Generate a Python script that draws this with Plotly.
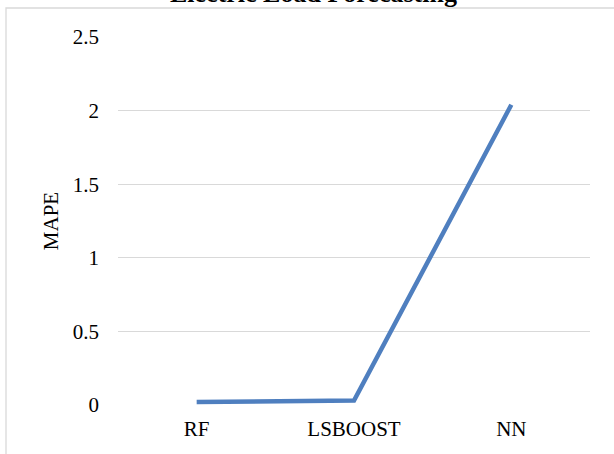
import plotly.graph_objects as go

models = ["RF", "LSBOOST", "NN"]
mape = [0.02, 0.03, 2.04]
y_ticks = [0, 0.5, 1, 1.5, 2, 2.5]
y_labels = ["0", "0.5", "1", "1.5", "2", "2.5"]

L, R, T, B = 118, 24, 37, 49
W, H = 614, 454
plot_w = W - L - R
plot_h = H - T - B


def px_x(p):
    return (p - L) / plot_w


def px_y(p):
    return (H - B - p) / plot_h


font = "Liberation Serif, Times New Roman, serif"

fig = go.Figure()
fig.add_trace(go.Scatter(
    x=models, y=mape, mode="lines",
    line=dict(color="#4F7FBF", width=4.5),
    showlegend=False, hoverinfo="skip",
))

fig.update_layout(
    width=W, height=H,
    margin=dict(l=L, r=R, t=T, b=B),
    paper_bgcolor="white", plot_bgcolor="white",
    font=dict(family=font, size=21, color="black"),
    xaxis=dict(
        type="category", range=[-0.5, 2.5],
        showgrid=False, zeroline=False, showline=False,
        ticks="", tickfont=dict(size=21), ticklabelstandoff=9,
    ),
    yaxis=dict(
        range=[0, 2.5], tickvals=y_ticks, ticktext=y_labels,
        showgrid=True, gridcolor="#D9D9D9", gridwidth=1.3,
        zeroline=False, showline=False, ticks="",
        tickfont=dict(size=21), ticklabelstandoff=18,
        title=dict(text="MAPE", font=dict(size=21), standoff=8),
    ),
    shapes=[dict(
        type="rect", xref="paper", yref="paper",
        x0=px_x(6), x1=px_x(640), y0=px_y(480), y1=px_y(8),
        line=dict(color="#D9D9D9", width=1.3), fillcolor="rgba(0,0,0,0)",
        layer="below",
    )],
    annotations=[dict(
        text="<b>Electric Load Forecasting</b>",
        xref="paper", yref="paper",
        x=px_x(313), y=px_y(10), xanchor="center", yanchor="bottom",
        showarrow=False, font=dict(size=26, family=font),
    )],
)

fig.write_html("out.html")
